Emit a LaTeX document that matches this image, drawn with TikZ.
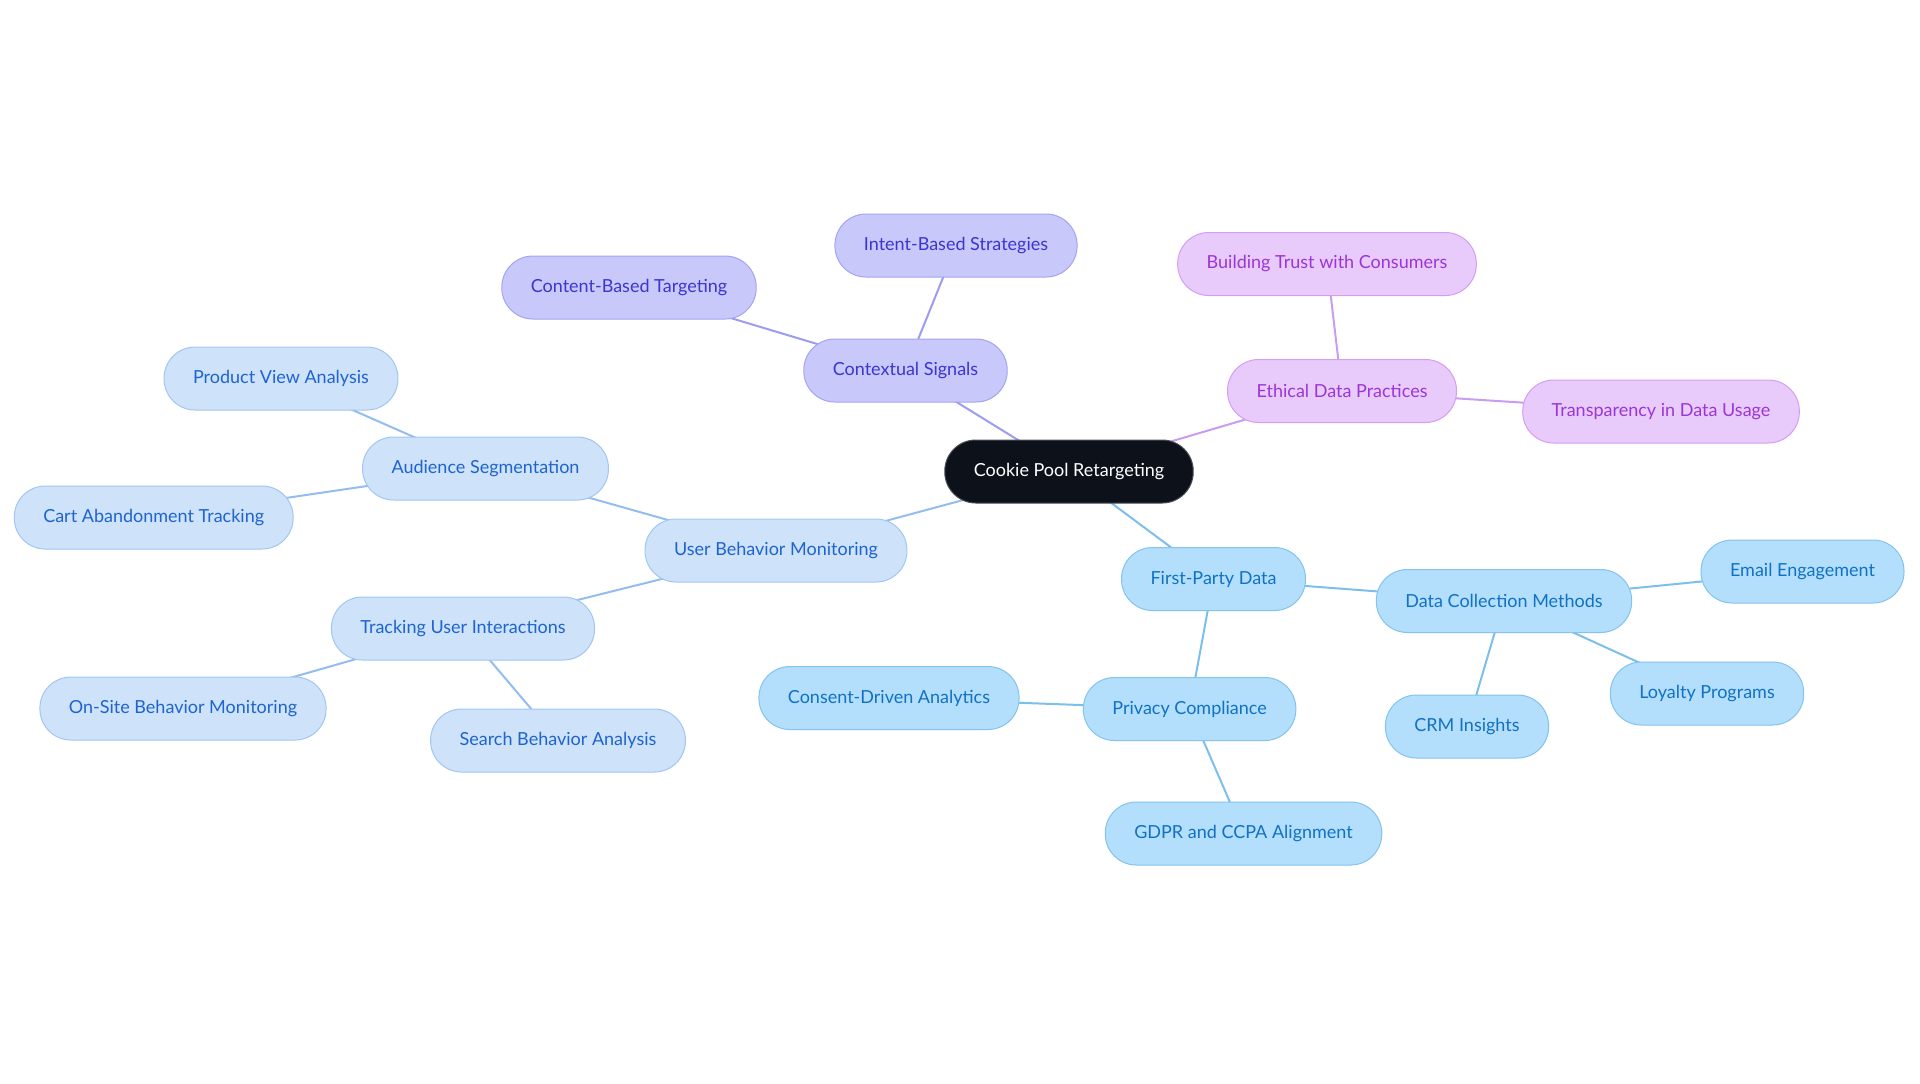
\documentclass[tikz,border=0pt]{standalone}
\usepackage{fontspec}
\setmainfont{Lato}
\usetikzlibrary{shapes,backgrounds}
\definecolor{rootfill}{HTML}{0C111A}
\definecolor{rootline}{HTML}{4A4F57}
\definecolor{ctxfill}{HTML}{C8C8FA}
\definecolor{ctxline}{HTML}{A5A4F2}
\definecolor{ctxtext}{HTML}{3C35D0}
\definecolor{ctxedge}{HTML}{9C9CF0}
\definecolor{ethfill}{HTML}{E8CBFB}
\definecolor{ethline}{HTML}{D39EF3}
\definecolor{ethtext}{HTML}{9B35D8}
\definecolor{ethedge}{HTML}{C89CF0}
\definecolor{usrfill}{HTML}{CEE2FA}
\definecolor{usrline}{HTML}{A2C6F2}
\definecolor{usrtext}{HTML}{1E64D0}
\definecolor{usredge}{HTML}{93BDEE}
\definecolor{fstfill}{HTML}{B3DFFC}
\definecolor{fstline}{HTML}{83C3EE}
\definecolor{fsttext}{HTML}{1171C4}
\definecolor{fstedge}{HTML}{7CBFEA}
\tikzstyle{pill} = [rectangle,draw,rounded corners=15.5pt,line width=0.5pt,text centered,minimum height=31.5pt,inner xsep=14.5pt,font=\fontsize{9}{11}\selectfont]

\begin{document}
\begin{tikzpicture}
		[
		x=0.5pt,y=-0.5pt,
		root/.style={pill,fill=rootfill,draw=rootline,text=white},
		ctx/.style={pill,fill=ctxfill,draw=ctxline,text=ctxtext},
		eth/.style={pill,fill=ethfill,draw=ethline,text=ethtext},
		usr/.style={pill,fill=usrfill,draw=usrline,text=usrtext},
		fst/.style={pill,fill=fstfill,draw=fstline,text=fsttext},
		ctxlink/.style={draw=ctxedge,line width=1pt},
		ethlink/.style={draw=ethedge,line width=1pt},
		usrlink/.style={draw=usredge,line width=1pt},
		fstlink/.style={draw=fstedge,line width=1pt}
		]
		\useasboundingbox (0,0) rectangle (1920,1083);
		\node[root](cookie_pool) at (1069,471.5) {Cookie Pool Retargeting};
		\node[ctx](contextual_signals) at (905.5,370.5) {Contextual Signals};
		\node[ctx](intent_strategies) at (956,245.5) {Intent-Based Strategies};
		\node[ctx](content_targeting) at (629,287.5) {Content-Based Targeting};
		\node[eth](ethical_practices) at (1342,391) {Ethical Data Practices};
		\node[eth](building_trust) at (1327,264) {Building Trust with Consumers};
		\node[eth](transparency_usage) at (1661,411.5) {Transparency in Data Usage};
		\node[usr](user_monitoring) at (776,550.5) {User Behavior Monitoring};
		\node[usr](audience_segmentation) at (485.5,468.5) {Audience Segmentation};
		\node[usr](product_view) at (281,378.5) {Product View Analysis};
		\node[usr](cart_abandonment) at (153.7,517.5) {Cart Abandonment Tracking};
		\node[usr](tracking_interactions) at (463,628.5) {Tracking User Interactions};
		\node[usr](onsite_monitoring) at (183,708.5) {On-Site Behavior Monitoring};
		\node[usr](search_analysis) at (558,740.5) {Search Behavior Analysis};
		\node[fst](first_party) at (1213.5,579) {First-Party Data};
		\node[fst](collection_methods) at (1504,601) {Data Collection Methods};
		\node[fst](email_engagement) at (1802.5,571.5) {Email Engagement};
		\node[fst](loyalty_programs) at (1707,693.5) {Loyalty Programs};
		\node[fst](crm_insights) at (1467,726.5) {CRM Insights};
		\node[fst](privacy_compliance) at (1189.6,709) {Privacy Compliance};
		\node[fst](consent_analytics) at (889,698) {Consent-Driven Analytics};
		\node[fst](gdpr_alignment) at (1243.5,833.5) {GDPR and CCPA Alignment};
		\begin{pgfonlayer}{background}
		\draw[ctxlink] (cookie_pool.center) -- (contextual_signals.center);
		\draw[ctxlink] (contextual_signals.center) -- (intent_strategies.center);
		\draw[ctxlink] (contextual_signals.center) -- (content_targeting.center);
		\draw[ethlink] (cookie_pool.center) -- (ethical_practices.center);
		\draw[ethlink] (ethical_practices.center) -- (building_trust.center);
		\draw[ethlink] (ethical_practices.center) -- (transparency_usage.center);
		\draw[usrlink] (cookie_pool.center) -- (user_monitoring.center);
		\draw[usrlink] (user_monitoring.center) -- (audience_segmentation.center);
		\draw[usrlink] (audience_segmentation.center) -- (product_view.center);
		\draw[usrlink] (audience_segmentation.center) -- (cart_abandonment.center);
		\draw[usrlink] (user_monitoring.center) -- (tracking_interactions.center);
		\draw[usrlink] (tracking_interactions.center) -- (onsite_monitoring.center);
		\draw[usrlink] (tracking_interactions.center) -- (search_analysis.center);
		\draw[fstlink] (cookie_pool.center) -- (first_party.center);
		\draw[fstlink] (first_party.center) -- (collection_methods.center);
		\draw[fstlink] (collection_methods.center) -- (email_engagement.center);
		\draw[fstlink] (collection_methods.center) -- (loyalty_programs.center);
		\draw[fstlink] (collection_methods.center) -- (crm_insights.center);
		\draw[fstlink] (first_party.center) -- (privacy_compliance.center);
		\draw[fstlink] (privacy_compliance.center) -- (consent_analytics.center);
		\draw[fstlink] (privacy_compliance.center) -- (gdpr_alignment.center);
		\end{pgfonlayer}
		\end{tikzpicture}
\end{document}
